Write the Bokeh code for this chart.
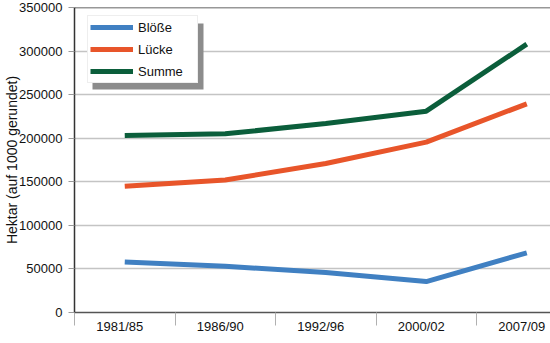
from bokeh.plotting import figure
from bokeh.models import (Range1d, FixedTicker, BasicTickFormatter, Legend, LegendItem,
                          BoxAnnotation, Span)
from bokeh.embed import file_html
from bokeh.resources import INLINE

categories = ["1981/85", "1986/90", "1992/96", "2000/02", "2007/09"]
bloesse = [58000, 53000, 46000, 35500, 68500]
luecke = [145000, 152000, 171000, 195500, 239500]
summe = [203000, 205000, 217000, 231000, 308000]
y_ticks = [0, 50000, 100000, 150000, 200000, 250000, 300000, 350000]

xs = [i + 0.5 for i in range(len(categories))]
label_pos = [x - 0.05 for x in xs]
bounds = list(range(len(categories)))

FONT = "Liberation Sans"

p = figure(width=550, height=343, output_backend="svg", toolbar_location=None,
           x_range=Range1d(0, 4.736), y_range=Range1d(0, 350000),
           min_border_left=74, min_border_right=0, min_border_top=7, min_border_bottom=31)
p.outline_line_color = None
p.background_fill_color = "white"
p.border_fill_color = "white"

colors = {"b": "#4080c2", "l": "#e8552a", "s": "#0b5e3b"}
r1 = p.line(xs, bloesse, line_color=colors["b"], line_width=5)
r2 = p.line(xs, luecke, line_color=colors["l"], line_width=5)
r3 = p.line(xs, summe, line_color=colors["s"], line_width=5)

# x axis
xa = p.xaxis[0]
xa.ticker = FixedTicker(ticks=label_pos, minor_ticks=bounds)
xa.major_label_overrides = {x: c for x, c in zip(label_pos, categories)}
xa.major_tick_out = 0
xa.major_tick_in = 0
xa.minor_tick_out = 13
xa.minor_tick_in = 0
xa.minor_tick_line_color = "#b0b0b0"
xa.axis_line_color = "#555555"
xa.axis_line_width = 1.5
xa.major_label_text_font = FONT
xa.major_label_text_font_size = "13px"
xa.major_label_text_color = "#111111"
xa.major_label_standoff = -7

# y axis
ya = p.yaxis[0]
ya.ticker = FixedTicker(ticks=y_ticks)
ya.formatter = BasicTickFormatter(use_scientific=False)
ya.minor_tick_line_color = None
ya.major_tick_out = 6
ya.major_tick_in = 0
ya.major_tick_line_color = "#999999"
ya.axis_line_color = "#333333"
ya.axis_line_width = 1.5
ya.major_label_text_font = FONT
ya.major_label_text_font_size = "13px"
ya.major_label_text_color = "#111111"
ya.major_label_standoff = 6
ya.axis_label = "Hektar (auf 1000 gerundet)"
ya.axis_label_text_font = FONT
ya.axis_label_text_font_size = "14px"
ya.axis_label_text_font_style = "normal"
ya.axis_label_text_color = "#111111"
ya.axis_label_standoff = -4

p.xgrid.grid_line_color = None
p.ygrid.ticker = FixedTicker(ticks=y_ticks[:-1])
p.ygrid.grid_line_color = "#c4c4c4"
p.ygrid.grid_line_width = 1.5

# top frame line
p.add_layout(Span(location=y_ticks[-1], dimension="width",
                  line_color="#333333", line_width=1.5))

# legend shadow
shadow = BoxAnnotation(left=18, right=129, top=289, bottom=223,
                       left_units="screen", right_units="screen",
                       top_units="screen", bottom_units="screen",
                       fill_color="#8c8c8c", fill_alpha=1.0, line_color=None)
p.add_layout(shadow)

legend = Legend(items=[LegendItem(label="Blöße", renderers=[r1]),
                       LegendItem(label="Lücke", renderers=[r2]),
                       LegendItem(label="Summe", renderers=[r3])],
                location=(13, 229))
legend.label_text_font = FONT
legend.label_text_font_size = "13px"
legend.label_text_color = "#111111"
legend.glyph_width = 43
legend.glyph_height = 18
legend.label_height = 18
legend.label_width = 57
legend.spacing = 4
legend.padding = 2
legend.label_standoff = 5
legend.border_line_color = "#dddddd"
legend.background_fill_alpha = 1.0
legend.margin = 0
p.add_layout(legend, "center")

open("out.html", "w").write(file_html(p, INLINE))
